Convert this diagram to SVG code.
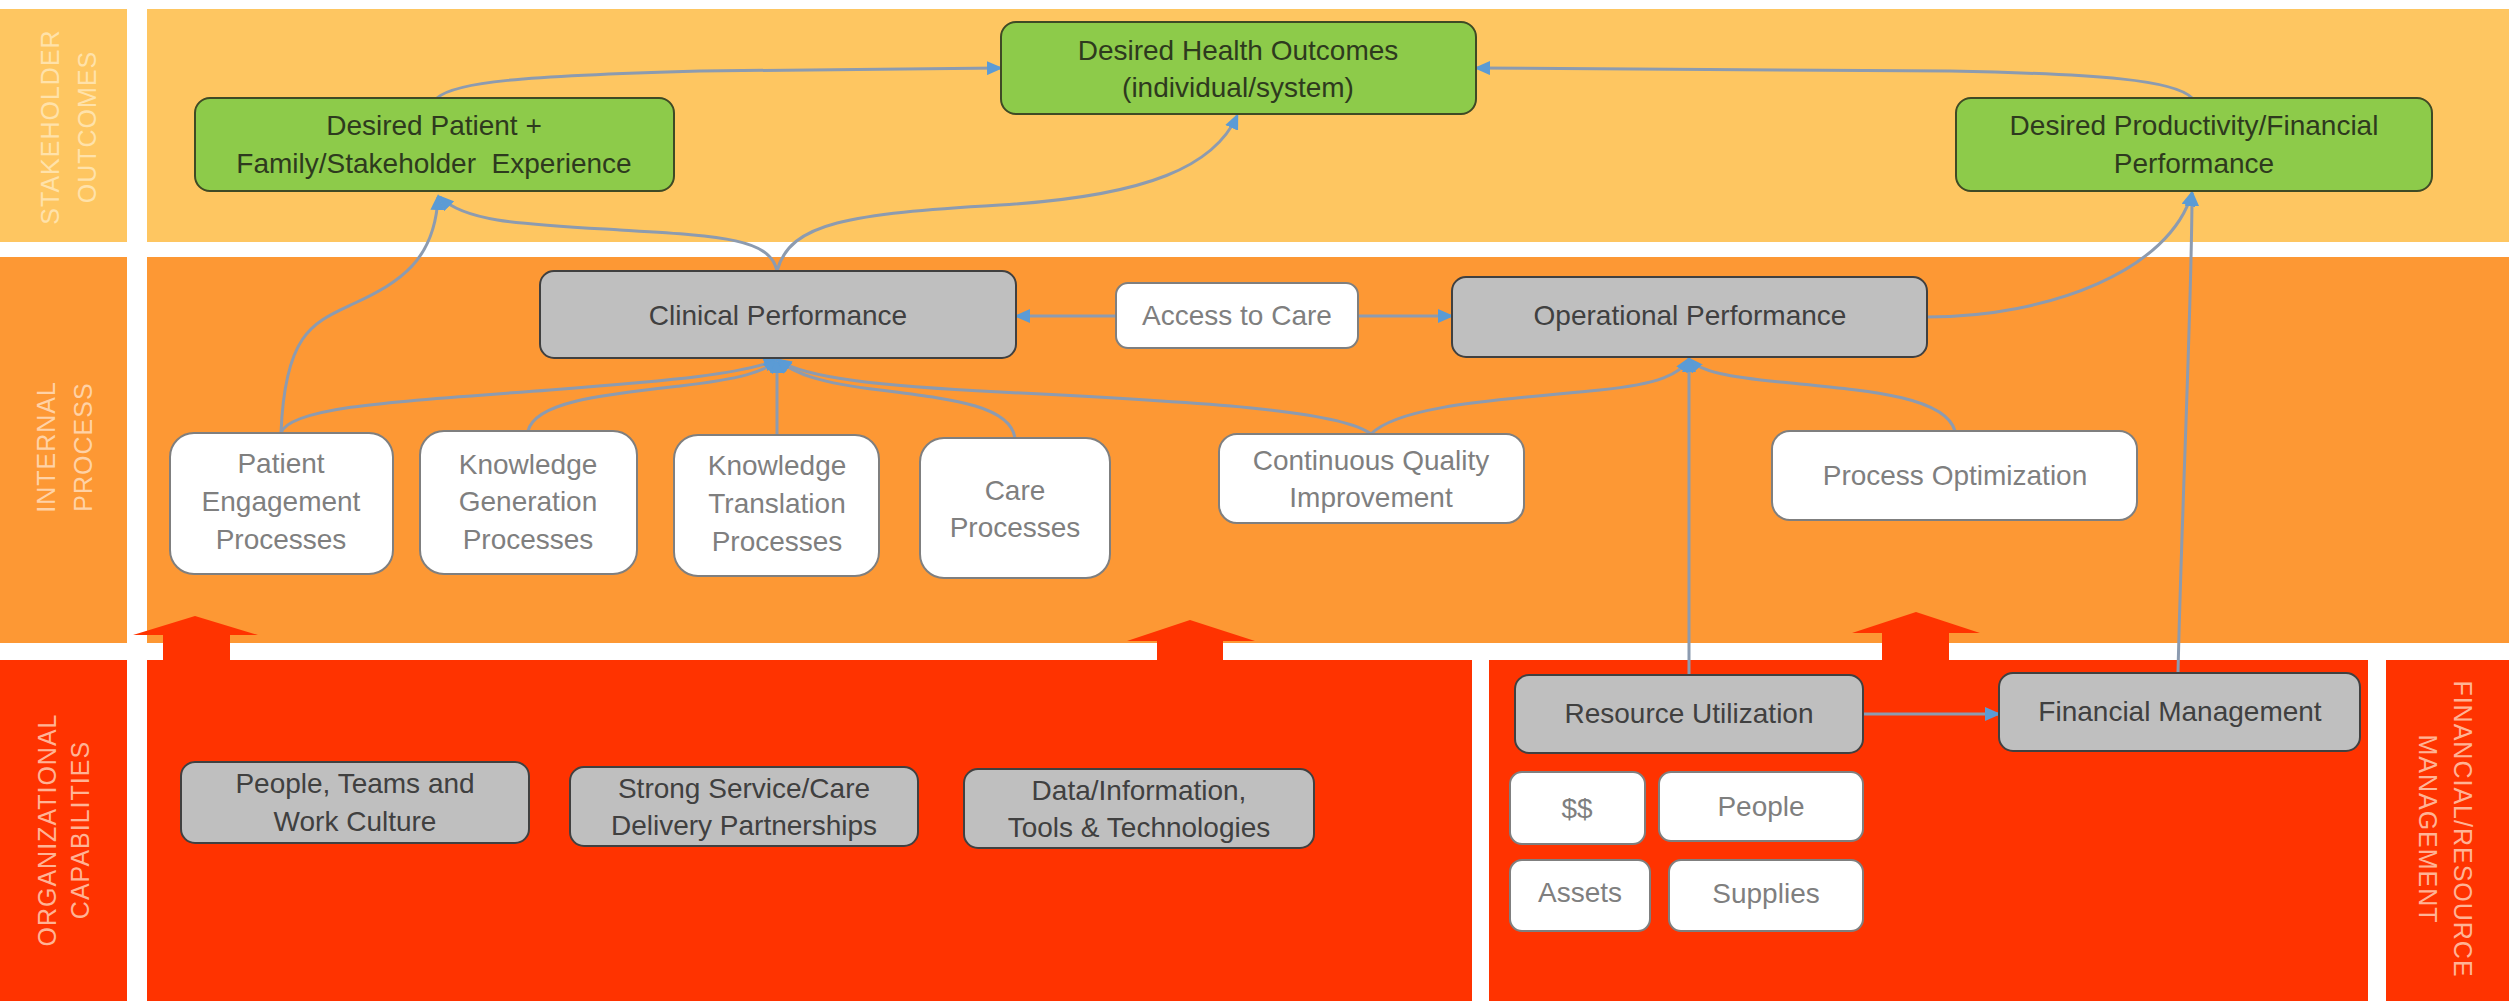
<svg xmlns="http://www.w3.org/2000/svg" width="2509" height="1001" viewBox="0 0 2509 1001">
<style>
.t{font-family:"Liberation Sans",Arial,sans-serif;font-size:28px;text-anchor:middle}
.green{fill:#8DCB4A;stroke:#3F4A25;stroke-width:2}
.gray{fill:#BFBFBF;stroke:#404040;stroke-width:2}
.white{fill:#FFFFFF;stroke:#7F7F7F;stroke-width:2}
.tg{fill:#2E3A1E}
.td{fill:#404040}
.tw{fill:#7F7F7F}
.lab{font-family:"Liberation Sans",Arial,sans-serif;font-size:25px;letter-spacing:1px;text-anchor:middle}
.edge{fill:none;stroke:#8C9BB0;stroke-width:3;marker-end:url(#ah)}
.big{fill:#FF3300}
</style>
<defs>
<marker id="ah" markerUnits="userSpaceOnUse" markerWidth="16" markerHeight="14" refX="13" refY="7" orient="auto">
<path d="M0,0 L16,7 L0,14 Z" fill="#5B9BD5"/>
</marker>
</defs>
<rect x="0" y="0" width="2509" height="1001" fill="#FFFFFF"/>
<g id="bands">
<rect x="0" y="9" width="127" height="233" fill="#FEC661"/>
<rect x="147" y="9" width="2362" height="233" fill="#FEC661"/>
<rect x="0" y="257" width="127" height="386" fill="#FD9834"/>
<rect x="147" y="257" width="2362" height="386" fill="#FD9834"/>
<rect x="0" y="660" width="127" height="341" fill="#FF3300"/>
<rect x="147" y="660" width="1325" height="341" fill="#FF3300"/>
<rect x="1489" y="660" width="879" height="341" fill="#FF3300"/>
<rect x="2386" y="660" width="123" height="341" fill="#FF3300"/>
</g>
<g id="band-labels">
<text class="lab" fill="#FFE2AA" transform="translate(59,127) rotate(-90)">STAKEHOLDER</text>
<text class="lab" fill="#FFE2AA" transform="translate(96,127) rotate(-90)">OUTCOMES</text>
<text class="lab" fill="#FFD2A6" transform="translate(55,447) rotate(-90)">INTERNAL</text>
<text class="lab" fill="#FFD2A6" transform="translate(92,447) rotate(-90)">PROCESS</text>
<text class="lab" fill="#FFB396" transform="translate(56,830) rotate(-90)">ORGANIZATIONAL</text>
<text class="lab" fill="#FFB396" transform="translate(89,830) rotate(-90)">CAPABILITIES</text>
<text class="lab" fill="#FFB396" transform="translate(2454,829) rotate(90)">FINANCIAL/RESOURCE</text>
<text class="lab" fill="#FFB396" transform="translate(2419,829) rotate(90)">MANAGEMENT</text>
</g>
<g id="block-arrows">
<path class="big" d="M195,616 L258,635 L230,635 L230,660 L163,660 L163,635 L133,635 Z"/>
<path class="big" d="M1190,620 L1255,641 L1223,641 L1223,662 L1157,662 L1157,641 L1127,641 Z"/>
<path class="big" d="M1916,612 L1980,633 L1949,633 L1949,662 L1882,662 L1882,633 L1852,633 Z"/>
</g>
<g id="connectors">
<path class="edge" d="M281,433 C285,330 315,322 355,303 C400,282 435,260 438,197"/>
<path class="edge" d="M777,271 C770,238 720,236 620,230 C520,224 465,222 440,197"/>
<path class="edge" d="M777,271 C790,222 850,214 1000,205 C1150,196 1215,165 1237,116"/>
<path class="edge" d="M437,98 C455,82 520,76 700,71 L1000,68"/>
<path class="edge" d="M2192,98 C2175,80 2100,74 1950,71 L1477,68"/>
<path class="edge" d="M1927,317 C2050,317 2170,270 2192,193"/>
<path class="edge" d="M2178,673 C2182,500 2192,300 2192,193"/>
<path class="edge" d="M1116,316 L1017,316"/>
<path class="edge" d="M1358,316 L1451,316"/>
<path class="edge" d="M281,433 C290,405 420,400 550,390 C680,380 740,374 777,360"/>
<path class="edge" d="M528,431 C535,402 600,395 680,386 C740,379 765,372 777,360"/>
<path class="edge" d="M777,435 L777,360"/>
<path class="edge" d="M1015,438 C1010,405 950,399 880,390 C820,383 795,374 778,360"/>
<path class="edge" d="M1371,434 C1340,410 1200,402 1000,392 C880,386 805,378 778,360"/>
<path class="edge" d="M1371,434 C1400,405 1500,400 1600,390 C1660,384 1680,374 1689,359"/>
<path class="edge" d="M1955,431 C1945,395 1860,390 1780,382 C1730,377 1700,372 1689,359"/>
<path class="edge" d="M1689,675 L1689,359"/>
<path class="edge" d="M1863,714 L1998,714"/>
</g>
<g id="n-health"><rect class="green" x="1001" y="22" width="475" height="92" rx="15"/><text class="t tg" x="1238" y="60">Desired Health Outcomes</text><text class="t tg" x="1238" y="97">(individual/system)</text></g>
<g id="n-patient-exp"><rect class="green" x="195" y="98" width="479" height="93" rx="15"/><text class="t tg" x="434" y="135">Desired Patient +</text><text class="t tg" x="434" y="173" xml:space="preserve" style="white-space:pre">Family/Stakeholder  Experience</text></g>
<g id="n-productivity"><rect class="green" x="1956" y="98" width="476" height="93" rx="15"/><text class="t tg" x="2194" y="135">Desired Productivity/Financial</text><text class="t tg" x="2194" y="173">Performance</text></g>
<g id="n-clinical"><rect class="gray" x="540" y="271" width="476" height="87" rx="14"/><text class="t td" x="778" y="325">Clinical Performance</text></g>
<g id="n-access"><rect class="white" x="1116" y="283" width="242" height="65" rx="12"/><text class="t tw" x="1237" y="325">Access to Care</text></g>
<g id="n-operational"><rect class="gray" x="1452" y="277" width="475" height="80" rx="14"/><text class="t td" x="1690" y="325">Operational Performance</text></g>
<g id="n-patient-eng"><rect class="white" x="170" y="433" width="223" height="141" rx="24"/><text class="t tw" x="281" y="473">Patient</text><text class="t tw" x="281" y="511">Engagement</text><text class="t tw" x="281" y="549">Processes</text></g>
<g id="n-know-gen"><rect class="white" x="420" y="431" width="217" height="143" rx="24"/><text class="t tw" x="528" y="474">Knowledge</text><text class="t tw" x="528" y="511">Generation</text><text class="t tw" x="528" y="549">Processes</text></g>
<g id="n-know-trans"><rect class="white" x="674" y="435" width="205" height="141" rx="24"/><text class="t tw" x="777" y="475">Knowledge</text><text class="t tw" x="777" y="513">Translation</text><text class="t tw" x="777" y="551">Processes</text></g>
<g id="n-care"><rect class="white" x="920" y="438" width="190" height="140" rx="24"/><text class="t tw" x="1015" y="500">Care</text><text class="t tw" x="1015" y="537">Processes</text></g>
<g id="n-cqi"><rect class="white" x="1219" y="434" width="305" height="89" rx="18"/><text class="t tw" x="1371" y="470">Continuous Quality</text><text class="t tw" x="1371" y="507">Improvement</text></g>
<g id="n-procopt"><rect class="white" x="1772" y="431" width="365" height="89" rx="18"/><text class="t tw" x="1955" y="485">Process Optimization</text></g>
<g id="n-people-teams"><rect class="gray" x="181" y="762" width="348" height="81" rx="14"/><text class="t td" x="355" y="793">People, Teams and</text><text class="t td" x="355" y="831">Work Culture</text></g>
<g id="n-partnerships"><rect class="gray" x="570" y="767" width="348" height="79" rx="14"/><text class="t td" x="744" y="798">Strong Service/Care</text><text class="t td" x="744" y="835">Delivery Partnerships</text></g>
<g id="n-data"><rect class="gray" x="964" y="769" width="350" height="79" rx="14"/><text class="t td" x="1139" y="800">Data/Information,</text><text class="t td" x="1139" y="837">Tools &amp; Technologies</text></g>
<g id="n-resource"><rect class="gray" x="1515" y="675" width="348" height="78" rx="14"/><text class="t td" x="1689" y="723">Resource Utilization</text></g>
<g id="n-finmgmt"><rect class="gray" x="1999" y="673" width="361" height="78" rx="14"/><text class="t td" x="2180" y="721">Financial Management</text></g>
<g id="n-money"><rect class="white" x="1510" y="772" width="135" height="72" rx="12"/><text class="t tw" x="1577" y="818">$$</text></g>
<g id="n-people"><rect class="white" x="1659" y="772" width="204" height="69" rx="12"/><text class="t tw" x="1761" y="816">People</text></g>
<g id="n-assets"><rect class="white" x="1510" y="860" width="140" height="71" rx="12"/><text class="t tw" x="1580" y="902">Assets</text></g>
<g id="n-supplies"><rect class="white" x="1669" y="860" width="194" height="71" rx="12"/><text class="t tw" x="1766" y="903">Supplies</text></g>
</svg>
